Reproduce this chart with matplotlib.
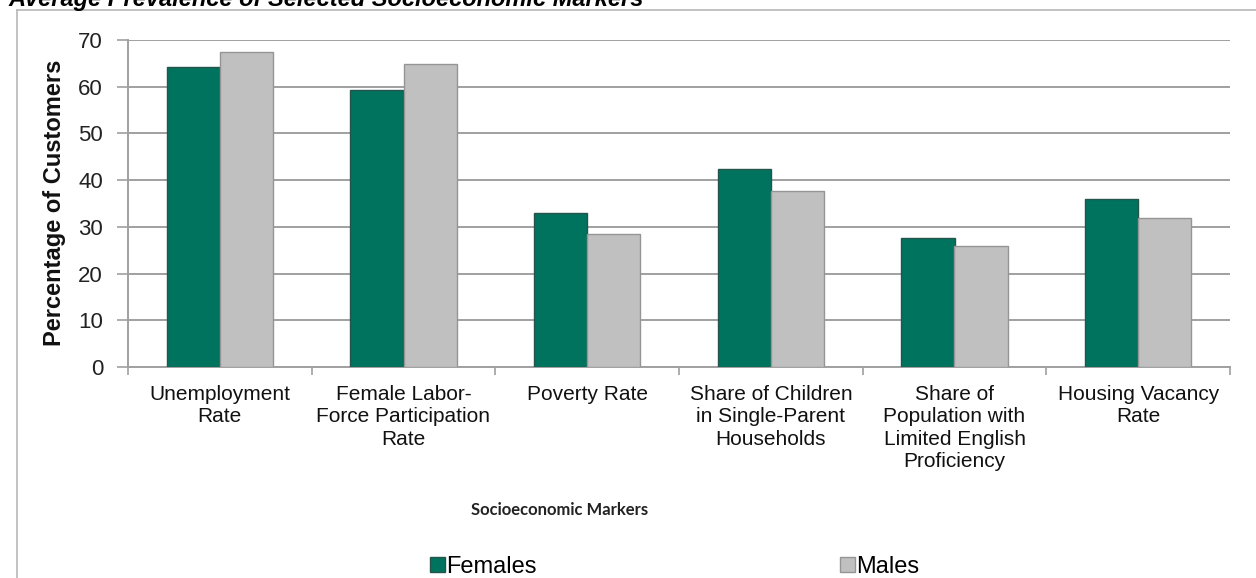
import matplotlib
matplotlib.use("Agg")
import matplotlib.pyplot as plt
from matplotlib.lines import Line2D
from matplotlib.patches import Patch
import numpy as np

categories = ["Unemployment\nRate", "Female Labor-\nForce Participation\nRate", "Poverty Rate",
              "Share of Children\nin Single-Parent\nHouseholds",
              "Share of\nPopulation with\nLimited English\nProficiency", "Housing Vacancy\nRate"]
females = [64.2, 59.4, 33.0, 42.4, 27.6, 36.0]
males = [67.5, 64.8, 28.5, 37.7, 25.8, 31.9]
yticks = [0, 10, 20, 30, 40, 50, 60, 70]

W, H = 1256, 578
fig = plt.figure(figsize=(W / 100, H / 100), dpi=100)
plt.rcParams['font.family'] = ['Liberation Sans', 'DejaVu Sans']

ax = fig.add_axes([128 / W, 1 - 367 / H, (1230 - 128) / W, (367 - 40) / H])

grid_c = '#a0a0a0'
fem_c, fem_e = '#00735f', '#24544a'
mal_c, mal_e = '#c0c0c0', '#959595'
x = np.arange(len(categories))
bw = 0.29
ax.bar(x - bw / 2, females, bw, color=fem_c, edgecolor=fem_e, linewidth=1.0, zorder=3)
ax.bar(x + bw / 2, males, bw, color=mal_c, edgecolor=mal_e, linewidth=1.0, zorder=3)

ax.set_xlim(-0.5, len(categories) - 0.5)
ax.set_ylim(0, 70)
ax.set_yticks(yticks)
ax.set_yticklabels([str(v) for v in yticks], fontsize=16, color='#222222')
ax.yaxis.grid(True, color=grid_c, linewidth=1.4, zorder=0)
ax.set_axisbelow(True)

ax.set_xticks(x)
ax.set_xticklabels(categories, fontsize=15, linespacing=1.22, va='top', color='#111111')
ax.tick_params(axis='x', which='major', length=0, pad=13)
ax.set_xticks(np.arange(-0.5, len(categories), 1.0), minor=True)
ax.tick_params(axis='x', which='minor', length=6, color=grid_c, width=1.2)
ax.tick_params(axis='y', length=8, color=grid_c, width=1.2, pad=10)

for s in ['top', 'right']:
    ax.spines[s].set_visible(False)
for s in ['left', 'bottom']:
    ax.spines[s].set_color(grid_c)
    ax.spines[s].set_linewidth(1.4)

fig.text(54 / W, 1 - 203 / H, "Percentage of Customers", fontsize=17, fontweight='bold',
         rotation=90, ha='center', va='center', color='#111111')

fig.text(560 / W, 1 - 510 / H, "Socioeconomic Markers", fontsize=12, fontweight='bold',
         family=['Lato', 'DejaVu Sans'], ha='center', va='center', color='#222222')

# title (cut at top, as in the reference)
fig.text(8 / W, 1 - 6 / H, "Average Prevalence of Selected Socioeconomic Markers", fontsize=17,
         fontweight='bold', fontstyle='italic', ha='left', va='baseline')

# outer frame
fig.add_artist(Line2D([17 / W, 17 / W], [0, 1 - 10 / H], transform=fig.transFigure, color='#b8b8b8', lw=1.2))
fig.add_artist(Line2D([17 / W, 1], [1 - 10 / H, 1 - 10 / H], transform=fig.transFigure, color='#b8b8b8', lw=1.2))

h_f = Patch(facecolor=fem_c, edgecolor=fem_e)
h_m = Patch(facecolor=mal_c, edgecolor=mal_e)
common = dict(loc='center left', frameon=False, fontsize=17, handlelength=0.62, handleheight=0.62,
              handletextpad=0.08, borderaxespad=0, borderpad=0)
fig.legend([h_f], ['Females'], bbox_to_anchor=(430 / W, 1 - 567 / H), **common)
fig.legend([h_m], ['Males'], bbox_to_anchor=(840 / W, 1 - 567 / H), **common)

fig.savefig("out.png", dpi=100)
